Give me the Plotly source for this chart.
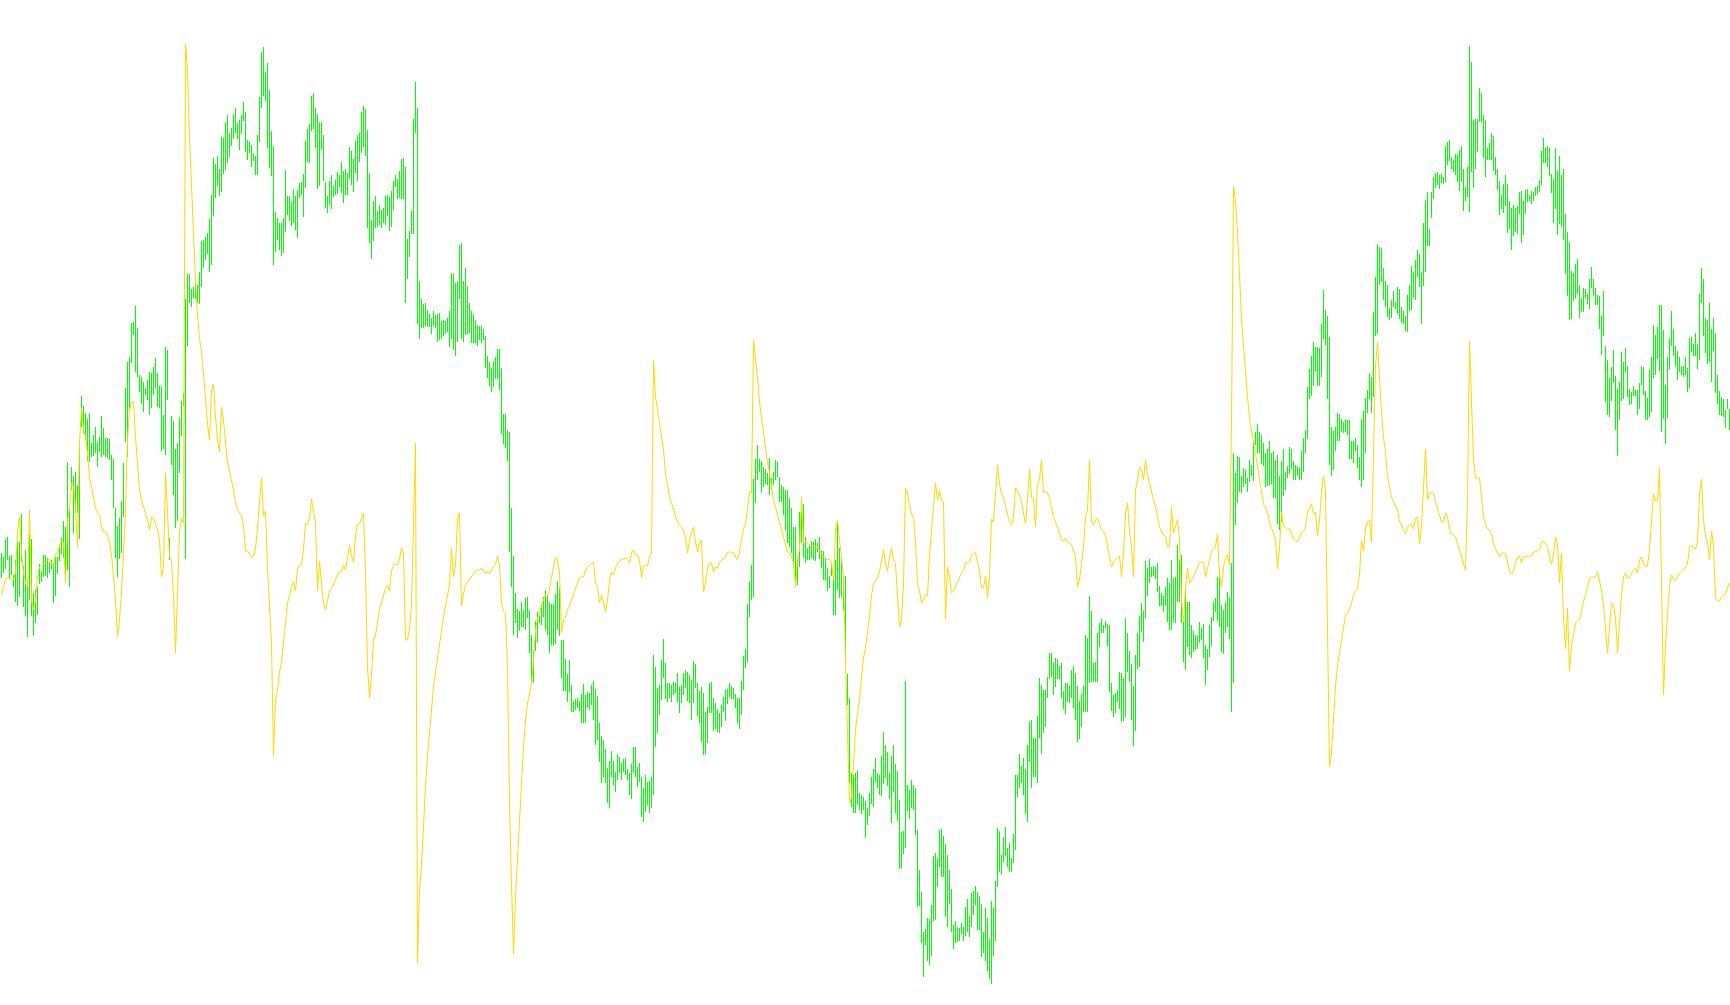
import plotly.graph_objects as go

# Bar highs (price units)
high = [
452,448,466,468,449,450,430,445,463,463, 491,439,455,426,470,466,412,415,418,441,
434,450,450,447,443,445,442,448,448,460, 467,484,478,543,498,538,529,533,520,562,
609,599,592,586,592,562,570,578,563,568, 589,577,567,567,566,550,546,497,479,487,
504,542,617,643,648,682,683,699,677,630, 628,623,617,625,633,632,638,647,632,619,
619,590,658,655,467,589,
584,556,562,587,604,612,706,731,731,716, 718,723,720,733,764,765,768,772,786,810,
847,841,849,836,868,867,883,890,872,877, 891,897,882,885,890,903,893,865,864,860,
852,849,870,908,953,958,933,942,915,874, 859,793,787,782,782,787,835,809,809,803,
816,809,815,822,823,831,864,876,881,909, 912,897,891,883,883,870,823,809,824,830,
819,825,833,830,843,834,836,
832,858,854,846,864,870,872,893,899,896, 875,832,785,804,809,794,800,795,797,809,
810,808,814,824,830,826,834,846,847,838, 766,774,794,886,923,897,724,706,701,702,
695,691,687,694,690,691,692,684,685,684, 687,694,732,731,722,723,760,762,724,737,
719,702,694,691,685,680,679,679,676,669, 649,643,637,644,648,656,656,637,591,591,
575,573,497,449,412,396,
394,403,395,407,408,395,370,354,384,393, 389,401,408,415,409,403,401,401,411,424,
417,365,365,346,331,345,320,304,306,307, 304,311,321,310,313,312,320,324,316,309,
282,269,265,256,237,244,254,244,233,251, 248,242,246,247,236,232,241,258,258,238,
242,228,217,230,223,224,228,350,338,317, 320,345,366,342,322,322,320,323,322,332,
318,320,332,335,333,330,325,
344,341,322,314,318,312,293,298,322,323, 307,302,296,292,300,308,315,316,322,319,
317,311,307,307,324,349,356,401,423,440, 526,546,560,546,544,538,536,532,547,527,
533,545,543,528,520,518,515,515,507,497, 478,478,446,493,493,501,468,457,459,464,
463,466,462,468,455,454,447,437,429,440, 429,445,482,457,448,428,429,331,307,232,
230,232,235,212,210,208,
204,197,212,228,236,247,232,230,249,273, 260,253,232,249,260,241,234,205,173,174,
324,220,215,225,220,217,175,135,113,73, 76,87,86,100,149,152,147,175,176,169,
161,150,135,116,80,84,78,77,82,78, 98,106,89,112,114,119,113,109,101,73,
97,87,66,104,97,124,177,174,150,168, 178,157,162,147,171,230,230,251,239,247,
236,260,283,285,267,267,289,
327,320,315,315,328,352,352,342,347,346, 339,342,314,322,322,319,335,339,332,319,
304,311,319,370,367,409,394,342,343,372, 382,386,380,384,381,380,322,310,312,315,
333,332,327,387,372,354,341,319,350,372, 389,402,394,444,437,446,438,439,438,442,
419,412,409,418,427,422,445,427,428,460, 445,450,389,418,403,403,380,374,370,369,
383,377,381,360,356,380,
388,403,407,428,434,400,395,403,413,408, 442,552,532,549,548,529,537,535,527,545,
540,564,573,581,573,570,562,552,556,564, 552,554,545,550,529,544,556,533,539,558,
556,544,540,539,537,554,567,575,618,636, 649,663,658,658,657,681,715,695,689,668,
578,574,578,592,591,586,583,586,585,585, 564,564,567,560,548,586,594,607,615,632,
628,693,728,761,758,757,737,
724,720,697,705,714,703,718,716,698,694, 689,710,720,739,733,745,755,751,733,782,
805,813,776,813,828,832,833,830,831,828, 859,863,865,848,845,851,851,855,859,836,
818,838,959,943,885,886,886,917,912,890, 885,857,862,872,869,848,836,824,810,821,
830,821,804,797,800,797,799,813,814,804, 815,816,810,814,813,818,819,825,854,867,
857,859,857,831,826,857,
834,849,830,836,791,773,763,734,732,741, 746,720,707,717,716,711,726,738,726,717,
710,709,689,714,659,645,627,638,655,629, 616,623,653,643,657,639,616,613,619,615,
615,622,639,638,614,607,635,648,680,670, 678,700,700,675,620,648,667,694,676,659,
654,648,639,639,648,637,667,668,661,672, 661,711,737,726,687,685,702,676,687,672,
630,614,608,606,595,606,596,
]

# Bar lows (price units)
low = [
427,432,436,445,426,430,418,403,399,408, 443,398,389,368,405,389,369,382,390,421,
423,428,429,427,432,436,402,409,431,444, 451,447,431,435,418,515,472,492,492,466,
578,572,565,544,543,548,549,552,538,553, 548,550,548,547,545,525,497,447,428,446,
452,488,563,548,593,642,670,633,628,613, 601,593,610,605,590,597,610,617,598,597,
554,556,550,605,445,540,
510,477,484,532,569,599,446,659,702,698, 707,706,702,701,718,737,745,751,733,740,
789,807,819,809,813,831,835,842,848,859, 866,872,866,855,871,884,853,845,852,838,
844,830,830,863,897,909,904,857,837,829, 740,753,765,755,749,752,773,790,784,779,
782,775,767,807,810,788,817,843,842,874, 876,857,816,819,855,824,797,792,800,796,
808,810,811,818,812,802,810,
810,826,820,813,832,824,843,852,858,849, 777,762,746,764,777,778,780,777,782,780,
789,774,778,795,818,806,807,806,806,702, 726,748,771,771,872,681,666,677,677,679,
678,678,671,679,677,663,665,666,669,671, 673,658,666,655,649,663,706,666,663,670,
671,672,662,662,662,659,665,662,665,637, 627,619,613,618,626,626,615,571,561,557,
544,453,418,370,382,367,
374,378,378,375,387,352,322,322,354,363, 382,380,388,375,370,352,360,359,361,375,
369,327,314,314,303,313,293,293,295,297, 294,282,282,282,297,295,300,285,260,265,
243,222,228,222,202,197,228,220,213,225, 232,225,233,230,225,210,206,232,228,218,
223,188,183,193,200,192,197,210,258,272, 290,305,327,306,303,307,303,310,312,303,
292,302,310,317,304,302,285,
302,317,289,282,263,250,250,262,292,292, 274,276,273,272,278,293,284,301,308,306,
306,297,282,276,290,315,337,343,388,405, 408,502,525,533,512,518,521,520,510,515,
520,525,528,503,503,490,475,462,458,452, 443,425,420,438,462,447,442,445,445,447,
445,444,453,446,437,425,424,414,417,429, 390,390,415,407,408,395,345,300,222,198,
192,192,200,195,191,195,
167,180,189,201,198,223,217,210,209,221, 227,219,206,182,213,192,184,136,137,151,
157,194,186,197,195,170,98,99,62,28, 60,44,40,49,84,85,118,138,128,128,
88,78,101,73,56,62,63,64,71,64, 69,73,68,78,90,100,75,75,48,52,
44,34,26,21,49,64,118,133,130,143, 149,138,133,133,142,155,208,217,222,210,
191,183,243,217,228,228,222,
267,251,272,278,307,326,328,310,318,326, 326,307,296,291,303,302,307,297,285,263,
266,278,293,293,293,322,323,323,323,323, 358,372,372,377,359,313,294,288,292,303,
296,283,284,288,333,323,285,259,274,336, 338,373,363,387,409,422,428,429,426,413,
399,399,393,399,383,375,375,383,382,403, 403,382,343,335,358,350,347,353,355,356,
362,365,347,320,335,348,
359,384,393,384,378,353,351,372,378,366, 293,322,480,502,513,512,518,521,513,523,
529,524,560,552,552,541,539,518,519,520, 521,507,507,481,475,483,509,515,527,531,
536,525,525,529,525,525,533,552,566,606, 609,619,633,619,619,628,666,660,606,540,
529,535,554,564,564,573,572,573,570,546, 546,542,554,537,525,518,525,552,592,606,
592,608,669,671,720,723,705,
698,688,685,687,698,696,691,686,682,681, 674,673,694,695,707,705,728,718,681,719,
733,759,759,787,806,817,820,816,822,821, 823,840,844,836,833,830,823,814,823,794,
804,808,793,833,817,836,853,883,883,847, 828,845,845,845,834,830,815,790,796,792,
799,772,776,755,769,773,771,791,762,770, 791,803,804,801,804,809,811,813,820,842,
842,838,829,812,782,796,
770,781,778,765,731,709,685,686,704,706, 711,687,693,693,707,701,696,717,709,700,
700,676,650,669,603,590,588,604,622,575, 549,585,604,606,633,608,600,601,609,609,
590,596,620,610,585,585,588,593,627,630, 646,634,573,586,561,587,636,659,649,639,
625,633,630,628,630,613,617,653,649,649, 636,645,702,669,652,641,643,623,654,612,
601,590,589,588,577,596,575,
]

# Indicator line (same units)
signal = [
410,418,426,427,427,425,425,433,472,488, 452,432,422,418,495,405,395,405,428,438,
440,442,443,445,446,442,438,450,453,458, 465,462,422,485,497,522,518,498,458,562,
597,575,568,552,527,518,507,497,492,490, 478,473,473,470,463,450,428,405,368,385,
412,452,492,565,595,603,603,568,538,515, 505,498,492,485,475,488,487,480,475,465,
428,438,532,492,448,445,
409,352,418,473,487,482,961,935,867,815, 765,725,690,666,654,626,607,581,565,614,
621,588,565,553,598,584,565,543,534,525, 515,503,496,492,489,480,454,454,451,448,
448,456,477,503,527,489,494,437,404,362, 249,305,315,333,343,362,385,402,409,418,
423,414,437,440,440,456,482,480,487,506, 494,482,414,444,421,402,395,404,414,416,
421,425,430,433,433,440,435,
446,460,449,443,469,481,481,486,492,431, 338,307,330,365,370,382,396,402,411,417,
420,414,434,440,441,440,446,457,452,365, 365,376,399,481,562,42,115,138,185,219,
249,275,301,318,333,347,365,376,388,399, 408,420,457,428,440,486,492,399,411,420,
423,426,428,431,434,435,435,437,434,431, 434,431,435,439,441,449,440,402,394,392,
336,202,121,51,109,150,
182,225,258,285,302,310,322,345,375,387, 392,400,405,410,409,415,428,438,448,445,
432,372,385,387,395,399,405,412,417,422, 427,428,428,435,438,440,441,443,422,418,
402,410,402,393,405,425,433,430,437,441, 443,446,446,447,446,442,452,455,450,450,
445,427,439,440,439,448,452,645,608,595, 583,568,555,532,518,508,502,495,488,483,
480,478,474,468,452,465,472,
478,463,453,462,465,413,422,437,442,442, 433,438,437,442,445,446,448,453,453,452,
452,448,445,453,465,477,480,495,513,512, 665,645,628,603,588,570,558,542,532,518,
505,498,490,482,475,468,458,453,452,448, 442,418,448,455,508,462,463,462,460,459,
459,458,458,455,452,448,447,445,446,442, 425,475,485,468,448,428,345,275,202,208,
242,275,292,305,328,347,
357,372,388,410,421,424,427,433,445,455, 441,434,448,457,445,441,410,378,385,421,
517,512,500,491,488,462,422,414,402,405, 410,409,450,472,493,522,505,515,504,503,
386,438,429,412,414,419,424,429,432,434, 443,441,443,450,452,452,443,434,417,417,
429,407,428,486,483,507,540,521,511,507, 500,491,483,480,488,517,514,510,503,493,
481,505,536,507,507,478,521,
525,545,512,514,512,507,497,488,483,478, 472,465,464,467,463,462,460,455,448,418,
425,442,458,488,495,545,483,480,485,487, 480,475,473,470,458,448,438,443,445,447,
449,428,452,492,502,475,458,428,515,525, 538,535,525,545,530,522,512,505,498,487,
478,473,470,469,458,458,498,472,478,485, 465,405,383,417,437,422,425,428,433,437,
442,443,443,428,437,447,
454,456,458,471,430,418,438,446,450,440, 584,819,805,772,722,687,659,631,608,588,
572,564,552,541,529,513,501,497,493,483, 477,471,465,436,457,493,479,477,475,477,
471,466,465,463,467,473,474,477,493,497, 501,491,493,469,485,513,529,515,351,238,
252,291,319,339,351,367,378,390,392,396, 402,410,414,416,430,465,454,477,483,485,
463,548,639,663,624,592,568,
552,529,519,508,503,498,495,483,480,475, 471,478,480,481,476,486,488,461,478,525,
556,505,512,513,512,503,495,490,483,483, 492,488,475,471,470,468,461,453,448,441,
435,505,664,603,546,527,527,527,508,488, 481,476,475,471,461,456,451,448,451,453,
451,442,434,431,434,442,448,449,442,448, 449,448,449,449,453,454,454,455,463,464,
461,458,448,441,451,468,
460,422,452,386,356,397,334,360,369,382, 384,386,393,404,410,417,426,428,428,428,
433,424,415,400,374,352,378,402,400,387, 352,386,411,428,432,426,428,432,435,437,
432,445,448,441,438,439,456,489,511,504, 504,537,415,310,360,393,419,430,426,424,
428,432,434,435,438,441,458,460,457,456, 463,511,526,485,469,463,445,474,460,408,
404,404,408,410,411,417,422,
]

n = len(high)
assert len(low) == n and len(signal) == n

bar_x, bar_y = [], []
for i in range(n):
    bar_x += [i, i, None]
    bar_y += [low[i], high[i], None]

fig = go.Figure()
fig.add_trace(go.Scatter(
    x=bar_x, y=bar_y, mode="lines",
    line=dict(color="#00ff00", width=1),
    hoverinfo="skip", showlegend=False,
))
fig.add_trace(go.Scatter(
    x=list(range(n)), y=signal, mode="lines",
    line=dict(color="#ffd700", width=1),
    hoverinfo="skip", showlegend=False,
))

fig.update_layout(
    width=1730, height=1005,
    margin=dict(l=0, r=0, t=0, b=0, pad=0),
    paper_bgcolor="white", plot_bgcolor="white",
    showlegend=False, hovermode=False,
    xaxis=dict(visible=False, range=[-0.75, n - 0.75], fixedrange=True),
    yaxis=dict(visible=False, range=[0, 1005], fixedrange=True),
)

fig.write_html(
    "out.html",
    config={"displayModeBar": False, "staticPlot": True},
    post_script="document.body.style.margin='0';document.body.style.overflow='hidden';",
)
